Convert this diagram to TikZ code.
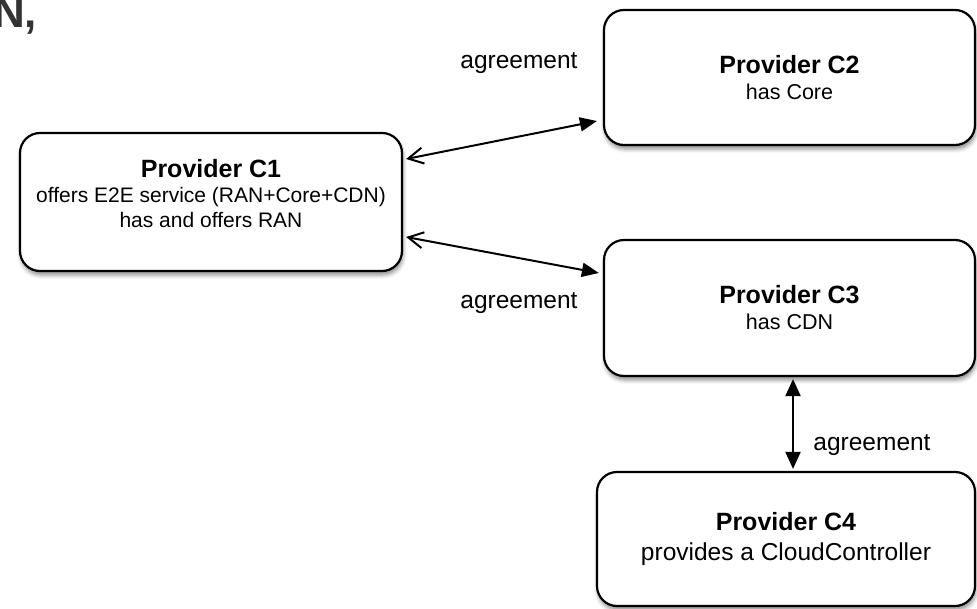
\documentclass[tikz,border=0pt]{standalone}
\usepackage{fontspec}
\setmainfont{Liberation Sans}
\usetikzlibrary{arrows.meta,shadows.blur}
\begin{document}
\begin{tikzpicture}[x=1pt,y=-1pt,
  provider/.style={draw=black, line width=2.2pt, rounded corners=20pt, fill=white,
    inner sep=0pt, align=center,
    blur shadow={shadow xshift=1pt, shadow yshift=-4pt, shadow blur radius=4pt, shadow opacity=45}},
  boxtext/.style={align=center, inner sep=0pt},
  link/.style={line width=2pt, {Straight Barb[length=15pt,width=16pt]}-{Triangle[length=17pt,width=14pt]}},
  twoway/.style={line width=2pt, {Triangle[length=17pt,width=15pt]}-{Triangle[length=17pt,width=15pt]}},
  lbl/.style={font=\fontsize{24.5}{28}\selectfont, inner sep=0pt, anchor=base}]
\useasboundingbox (0,0) rectangle (977,608);
\clip (0,0) rectangle (977,608);

% heading fragment at the top left corner
\node[anchor=base west, inner sep=0pt, text=black!80, font=\fontsize{44}{44}\selectfont\bfseries] (head) at (-7,27) {N,};

% providers
\node[provider, minimum width=382pt, minimum height=138pt] (c1) at (211,202) {};
\node[boxtext, font=\fontsize{21}{25}\selectfont] (c1txt) at (211,194)
  {{\fontsize{25}{26}\selectfont\bfseries Provider C1}\\offers E2E service (RAN+Core+CDN)\\has and offers RAN};

\node[provider, minimum width=371pt, minimum height=135pt, font=\fontsize{21.5}{26}\selectfont] (c2) at (789.5,77.5)
  {{\fontsize{25}{26}\selectfont\bfseries Provider C2}\\has Core};

\node[provider, minimum width=371pt, minimum height=136pt, font=\fontsize{21.5}{26}\selectfont] (c3) at (789.5,308)
  {{\fontsize{25}{26}\selectfont\bfseries Provider C3}\\has CDN};

\node[provider, minimum width=378pt, minimum height=134pt, font=\fontsize{24.5}{30}\selectfont] (c4) at (786,539)
  {{\fontsize{25}{30}\selectfont\bfseries Provider C4}\\provides a CloudController};

% agreements
\draw[link] ([xshift=3pt,yshift=43pt]c1.east) -- ([xshift=-6pt,yshift=-43.5pt]c2.west);
\draw[link] ([xshift=3pt,yshift=-35pt]c1.east) -- ([xshift=-4pt,yshift=35pt]c3.west);
\draw[twoway] ([xshift=3.5pt,yshift=-2pt]c3.south) -- ([xshift=7pt,yshift=2pt]c4.north);

\node[lbl] (a12) at (519,68) {agreement};
\node[lbl] (a13) at (519,308) {agreement};
\node[lbl] (a34) at (872,450) {agreement};
\end{tikzpicture}
\end{document}
